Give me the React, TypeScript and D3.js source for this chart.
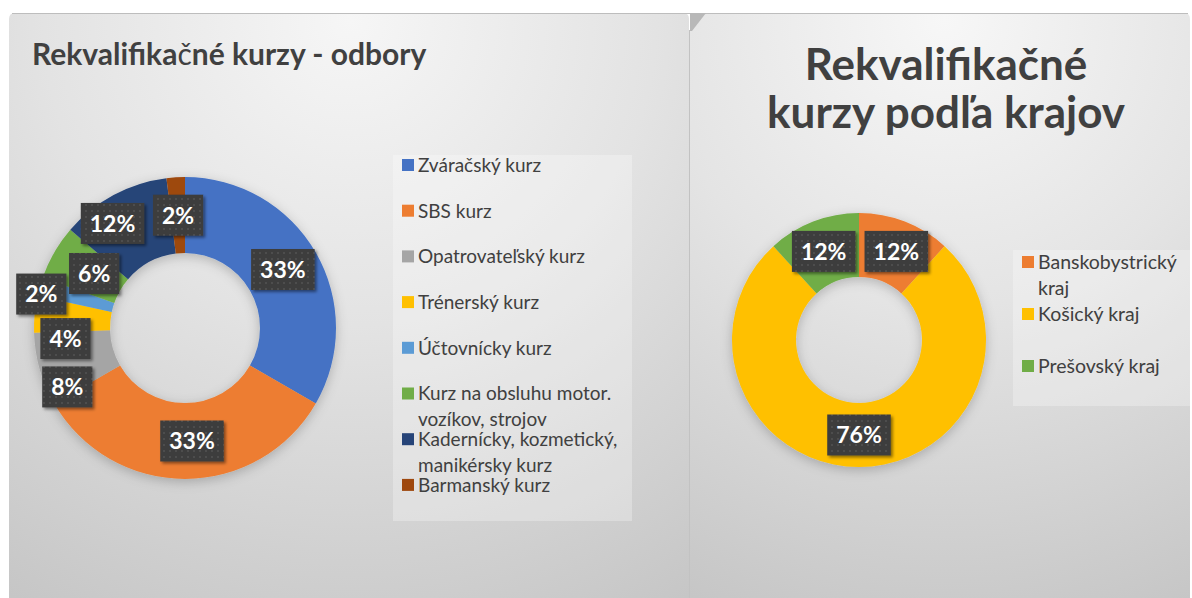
import React, { useEffect, useRef } from "react";
import * as d3 from "d3";

// ---------- data ----------
const courseNames = [
  "Zváračský kurz",
  "SBS kurz",
  "Opatrovateľský kurz",
  "Trénerský kurz",
  "Účtovnícky kurz",
  "Kurz na obsluhu motor. vozíkov, strojov",
  "Kadernícky, kozmetický, manikérsky kurz",
  "Barmanský kurz",
];
const courseCounts = [17, 17, 4, 2, 1, 3, 6, 1];
const courseColors = ["#4472C4", "#ED7D31", "#A5A5A5", "#FFC000", "#5B9BD5", "#70AD47", "#264478", "#9E480E"];

const regionNames = ["Banskobystrický kraj", "Košický kraj", "Prešovský kraj"];
const regionCounts = [2, 13, 2];
const regionColors = ["#ED7D31", "#FFC000", "#70AD47"];

const leftTitleParts = ["Rekvalifika", "č", "né kurzy - odbory"];
const rightTitleLines = ["Rekvalifikačné", "kurzy podľa krajov"];

// label nudges (layout only, offsets from the arc centroid)
const leftLabelNudge: [number, number][] = [[0, -2], [7, 0], [-9, 28], [-7, 21], [-35, -3], [7, 2], [-19, -5], [0, 0]];
const rightLabelNudge: [number, number][] = [[3, 0], [0, 0], [-1, 0]];

const W = 1192;
const H = 598;
const FONT = "Lato, 'Open Sans', sans-serif";
const TEXT = "#404040";

export default function App() {
  const ref = useRef<SVGSVGElement | null>(null);

  useEffect(() => {
    const svg = d3.select(ref.current);
    svg.selectAll("*").remove();
    const defs = svg.append("defs");

    const gradL = defs.append("radialGradient").attr("id", "bgL").attr("gradientUnits", "userSpaceOnUse")
      .attr("cx", 350).attr("cy", 20).attr("r", 680);
    gradL.append("stop").attr("offset", 0).attr("stop-color", "#f6f6f6");
    gradL.append("stop").attr("offset", 0.45).attr("stop-color", "#e3e3e3");
    gradL.append("stop").attr("offset", 1).attr("stop-color", "#c5c5c5");
    const gradR = defs.append("radialGradient").attr("id", "bgR").attr("gradientUnits", "userSpaceOnUse")
      .attr("cx", 945).attr("cy", 20).attr("r", 640);
    gradR.append("stop").attr("offset", 0).attr("stop-color", "#f7f7f7");
    gradR.append("stop").attr("offset", 0.45).attr("stop-color", "#e4e4e4");
    gradR.append("stop").attr("offset", 1).attr("stop-color", "#c5c5c5");

    const pat = defs.append("pattern").attr("id", "dots").attr("width", 6).attr("height", 6)
      .attr("patternUnits", "userSpaceOnUse");
    pat.append("rect").attr("width", 6).attr("height", 6).attr("fill", "#3c3c3c");
    pat.append("circle").attr("cx", 3).attr("cy", 3).attr("r", 0.9).attr("fill", "#555555");

    const sh = defs.append("filter").attr("id", "lblShadow").attr("x", "-30%").attr("y", "-30%").attr("width", "160%").attr("height", "160%");
    sh.append("feDropShadow").attr("dx", 2).attr("dy", 2).attr("stdDeviation", 1.5).attr("flood-color", "#000").attr("flood-opacity", 0.45);
    const dsh = defs.append("filter").attr("id", "donutShadow").attr("x", "-20%").attr("y", "-20%").attr("width", "140%").attr("height", "140%");
    dsh.append("feDropShadow").attr("dx", 0).attr("dy", 3).attr("stdDeviation", 6).attr("flood-color", "#000").attr("flood-opacity", 0.22);

    // ---------- backgrounds ----------
    svg.append("rect").attr("width", W).attr("height", H).attr("fill", "#ffffff");
    svg.append("path").attr("d", "M9,19 Q9,13 15,13 L683,13 Q689,13 689,19 L689,598 L9,598 Z").attr("fill", "url(#bgL)");
    svg.append("path").attr("d", "M690,19 Q690,13 696,13 L1184,13 Q1190,13 1190,19 L1190,598 L690,598 Z").attr("fill", "url(#bgR)");
    svg.append("line").attr("x1", 12).attr("x2", 1188).attr("y1", 13.5).attr("y2", 13.5).attr("stroke", "#bdbdbd").attr("stroke-width", 1);
    svg.append("path").attr("d", "M690,13 L706,13 L692,31 L690,31 Z").attr("fill", "#b8b8b8");
    svg.append("line").attr("x1", 689.5).attr("x2", 689.5).attr("y1", 30).attr("y2", H).attr("stroke", "#c2c2c2").attr("stroke-width", 1);

    // ---------- titles ----------
    const lt = svg.append("text").attr("x", 32).attr("y", 65).attr("font-family", FONT).attr("font-size", 30)
      .attr("font-weight", 700).attr("fill", TEXT);
    leftTitleParts.forEach((p, i) => lt.append("tspan").text(p).attr("font-weight", i === 1 ? 400 : 700));

    rightTitleLines.forEach((line, i) => {
      svg.append("text").attr("x", 946).attr("y", 80 + i * 48).attr("text-anchor", "middle")
        .attr("font-family", FONT).attr("font-size", 44).attr("font-weight", 700).attr("fill", TEXT).text(line);
    });

    // ---------- helpers ----------
    const measure = svg.append("text").attr("font-family", FONT).attr("visibility", "hidden");
    const textWidth = (s: string, size: number, weight: number) => {
      measure.attr("font-size", size).attr("font-weight", weight).text(s);
      return (measure.node() as SVGTextElement).getComputedTextLength();
    };
    const wrap = (s: string, size: number, maxW: number) => {
      const words = s.split(" ");
      const lines: string[] = [];
      let cur = "";
      words.forEach((w) => {
        const t = cur ? cur + " " + w : w;
        if (cur && textWidth(t, size, 400) > maxW) {
          lines.push(cur);
          cur = w;
        } else cur = t;
      });
      if (cur) lines.push(cur);
      return lines;
    };

    const donut = (cx: number, cy: number, rOuter: number, rInner: number, counts: number[], colors: string[], nudges: [number, number][]) => {
      const total = d3.sum(counts);
      const pie = d3.pie<number>().sort(null).value((d) => d);
      const arcs = pie(counts);
      const arc = d3.arc<d3.PieArcDatum<number>>().innerRadius(rInner).outerRadius(rOuter);
      const labelArc = d3.arc<d3.PieArcDatum<number>>().innerRadius((rInner + rOuter) / 2).outerRadius((rInner + rOuter) / 2);
      const g = svg.append("g").attr("transform", `translate(${cx},${cy})`);
      g.append("g").attr("filter", "url(#donutShadow)").selectAll("path").data(arcs).join("path")
        .attr("d", arc).attr("fill", (_d, i) => colors[i]);
      const lg = g.append("g");
      arcs.forEach((a, i) => {
        const [x0, y0] = labelArc.centroid(a);
        const x = x0 + nudges[i][0];
        const y = y0 + nudges[i][1];
        const label = Math.round((a.value / total) * 100) + "%";
        const fs = 23;
        const tw = textWidth(label, fs, 700);
        const bw = tw + 18;
        const bh = 41;
        lg.append("rect").attr("x", x - bw / 2).attr("y", y - bh / 2).attr("width", bw).attr("height", bh)
          .attr("fill", "url(#dots)").attr("filter", "url(#lblShadow)");
        lg.append("text").attr("x", x).attr("y", y + fs * 0.36).attr("text-anchor", "middle")
          .attr("font-family", FONT).attr("font-size", fs).attr("font-weight", 700).attr("fill", "#ffffff").text(label);
      });
    };

    const legend = (bx: number, by: number, bw: number, bh: number, names: string[], colors: string[], firstY: number, step: number, lineH: number, maxW: number, fs: number) => {
      svg.append("rect").attr("x", bx).attr("y", by).attr("width", bw).attr("height", bh).attr("fill", "#ffffff").attr("fill-opacity", 0.28);
      names.forEach((n, i) => {
        const cy = firstY + i * step;
        svg.append("rect").attr("x", bx + 9).attr("y", cy - 6).attr("width", 12).attr("height", 12).attr("fill", colors[i]);
        const lines = wrap(n, fs, maxW);
        lines.forEach((l, j) => {
          svg.append("text").attr("x", bx + 25).attr("y", cy + j * lineH + fs * 0.36)
            .attr("font-family", FONT).attr("font-size", fs).attr("fill", TEXT).text(l);
        });
      });
    };

    donut(185, 328, 151, 75, courseCounts, courseColors, leftLabelNudge);
    legend(393, 155, 239, 366, courseNames, courseColors, 165, 45.7, 26, 212, 19);

    donut(859, 340, 127, 63, regionCounts, regionColors, rightLabelNudge);
    legend(1013, 250, 179, 156, regionNames, regionColors, 262, 52, 26, 145, 19.5);

    measure.remove();
  }, []);

  return (
    <svg ref={ref} width={W} height={H} style={{ position: "absolute", left: 0, top: 0, display: "block" }} />
  );
}
